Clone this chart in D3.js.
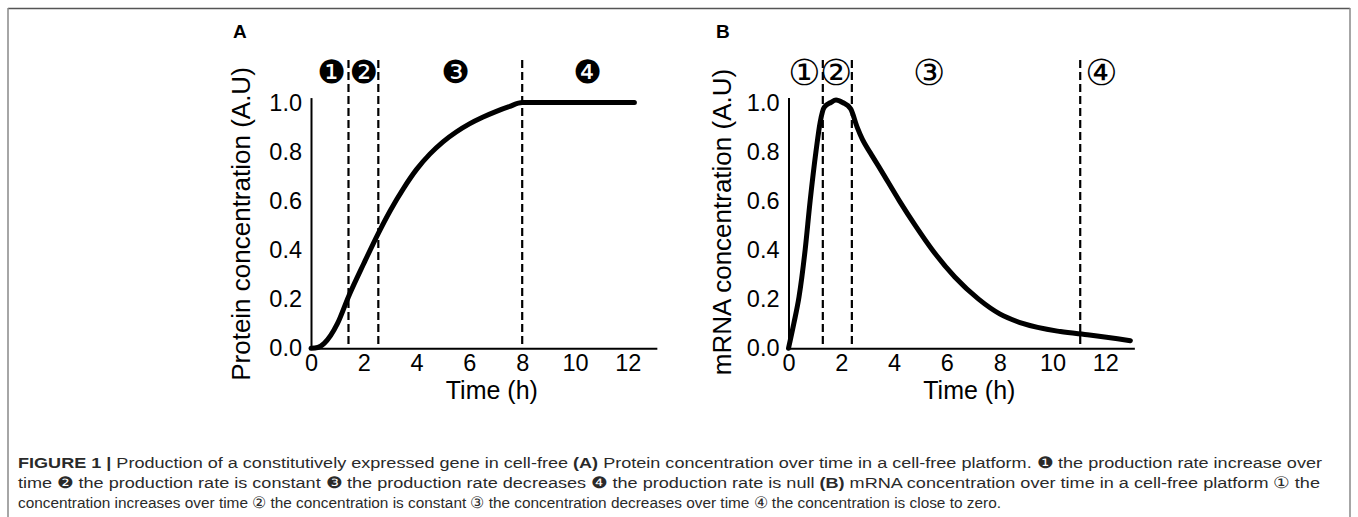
<!DOCTYPE html>
<html><head><meta charset="utf-8">
<script src="https://cdn.jsdelivr.net/npm/d3@7"></script>
<style>
html,body{margin:0;padding:0;background:#fff;}
svg{display:block;}
</style></head>
<body>
<svg id="chart" width="1358" height="517"></svg>
<script>
// ---- data ----
const xTicks = [0, 2, 4, 6, 8, 10, 12];
const yTicks = [0.0, 0.2, 0.4, 0.6, 0.8, 1.0];
const proteinTime = [0, 0.25, 0.5, 1, 1.42, 2, 2.55, 3, 3.5, 4, 4.5, 5, 5.5, 6, 6.5, 7, 7.5, 8, 10, 12.25];
const proteinConc = [0, 0.003, 0.02, 0.1, 0.21, 0.345, 0.468, 0.56, 0.65, 0.728, 0.79, 0.84, 0.88, 0.913, 0.94, 0.963, 0.983, 1.0, 1.0, 1.0];
const mrnaTime = [0, 0.2, 0.4, 0.63, 0.82, 1.04, 1.2, 1.35, 1.6, 1.8, 2.05, 2.35, 2.6, 2.8, 3.1, 3.5, 4.2, 4.8, 5.45, 6.3, 7.2, 8, 8.9, 10.3, 11.4, 12.95];
const mrnaConc = [0, 0.1, 0.21, 0.4, 0.6, 0.8, 0.92, 0.98, 1.0, 1.01, 1.0, 0.975, 0.9, 0.85, 0.795, 0.725, 0.6, 0.5, 0.4, 0.29, 0.2, 0.14, 0.1, 0.068, 0.054, 0.031];
const proteinPhaseLines = [1.42, 2.55, 8.0];
const mrnaPhaseLines = [1.3, 2.4, 11.05];
const proteinPhaseLabels = ["\u2776", "\u2777", "\u2778", "\u2779"];
const proteinPhaseLabelX = [0.78, 2.0, 5.47, 10.47];
const mrnaPhaseLabels = ["\u2460", "\u2461", "\u2462", "\u2463"];
const mrnaPhaseLabelX = [0.6, 1.8, 5.33, 11.85];
const panels = ["A", "B"];
const yLabels = ["Protein concentration (A.U)", "mRNA concentration (A.U)"];
const xLabel = "Time (h)";
const captionLines = [
  [["FIGURE 1 | ", true], ["Production of a constitutively expressed gene in cell-free ", false], ["(A)", true], [" Protein concentration over time in a cell-free platform. \u2776 the production rate increase over", false]],
  [["time \u2777 the production rate is constant \u2778 the production rate decreases \u2779 the production rate is null ", false], ["(B)", true], [" mRNA concentration over time in a cell-free platform \u2460 the", false]],
  [["concentration increases over time \u2461 the concentration is constant \u2462 the concentration decreases over time \u2463 the concentration is close to zero.", false]]
];

const svg = d3.select("#chart");
const FONT = "'Liberation Sans', Arial, Helvetica, sans-serif";

// frame
svg.append("line").attr("x1", 8).attr("x2", 1350).attr("y1", 8.5).attr("y2", 8.5).attr("stroke", "#555").attr("stroke-width", 1.5);
svg.append("line").attr("x1", 8).attr("x2", 8).attr("y1", 8).attr("y2", 517).attr("stroke", "#888").attr("stroke-width", 1.5);
svg.append("line").attr("x1", 1350).attr("x2", 1350).attr("y1", 8).attr("y2", 517).attr("stroke", "#888").attr("stroke-width", 1.5);

const panelCfg = [
  {x0: 311, ylabX: 241, ylabY: 224, letterX: 233, t: proteinTime, v: proteinConc, lines: proteinPhaseLines, labs: proteinPhaseLabels, labX: proteinPhaseLabelX, labSize: 32},
  {x0: 788.5, ylabX: 722, ylabY: 222, letterX: 716, t: mrnaTime, v: mrnaConc, lines: mrnaPhaseLines, labs: mrnaPhaseLabels, labX: mrnaPhaseLabelX, labSize: 36}
];

const y = d3.scaleLinear().domain([0, 1.02]).range([348.3, 97.6]);

panelCfg.forEach((p, i) => {
  const x = d3.scaleLinear().domain([0, 13.1]).range([p.x0, p.x0 + 13.1 * 26.4]);
  const g = svg.append("g");

  // axes
  const xa = g.append("g").attr("transform", `translate(0,${y(0)})`)
    .call(d3.axisBottom(x).tickValues(xTicks).tickSize(0).tickPadding(6.5).tickFormat(d3.format("d")));
  const ya = g.append("g").attr("transform", `translate(${p.x0},0)`)
    .call(d3.axisLeft(y).tickValues(yTicks).tickSize(0).tickPadding(9).tickFormat(d3.format(".1f")));
  [xa, ya].forEach(a => {
    a.select(".domain").attr("stroke", "#000").attr("stroke-width", 2);
    a.selectAll("text").attr("font-family", FONT).attr("font-size", 23.5).attr("fill", "#000");
  });

  // dashed phase lines
  g.selectAll(".ph").data(p.lines).join("line")
    .attr("x1", d => x(d)).attr("x2", d => x(d))
    .attr("y1", 60).attr("y2", y(0))
    .attr("stroke", "#000").attr("stroke-width", 2.2).attr("stroke-dasharray", "8,4");

  // curve
  const pts = p.t.map((t, k) => [t, p.v[k]]);
  g.append("path").datum(pts)
    .attr("d", d3.line().x(d => x(d[0])).y(d => y(d[1])).curve(d3.curveMonotoneX))
    .attr("fill", "none").attr("stroke", "#000").attr("stroke-width", 5).attr("stroke-linecap", "round");

  // phase labels
  g.selectAll(".pl").data(p.labs).join("text")
    .attr("x", (d, k) => x(p.labX[k])).attr("y", 72).attr("dy", "0.35em")
    .attr("text-anchor", "middle").attr("font-family", "'DejaVu Sans', sans-serif")
    .attr("font-size", p.labSize).attr("fill", "#000").text(d => d);

  // axis titles
  g.append("text").attr("x", x(6.85)).attr("y", 399)
    .attr("text-anchor", "middle").attr("font-family", FONT).attr("font-size", 25).text(xLabel);
  g.append("text").attr("transform", `translate(${p.ylabX},${p.ylabY}) rotate(-90)`).attr("dy", "0.35em")
    .attr("text-anchor", "middle").attr("font-family", FONT).attr("font-size", 26).text(yLabels[i]);

  // panel letter
  g.append("text").attr("x", p.letterX).attr("y", 38).attr("font-family", FONT)
    .attr("font-weight", "bold").attr("font-size", 19).text(panels[i]);
});

// caption
const capLens = [1304, 1302, 983];
captionLines.forEach((line, i) => {
  const t = svg.append("text").attr("x", 18).attr("y", 468 + i * 20)
    .attr("font-family", "'Liberation Sans Narrow', 'Liberation Sans', Arial, sans-serif")
    .attr("font-size", 15.5).attr("fill", "#2a2a2a")
    .attr("textLength", capLens[i]).attr("lengthAdjust", "spacingAndGlyphs");
  line.forEach(([s, b]) => t.append("tspan").attr("font-weight", b ? "bold" : "normal").text(s));
});
</script>
</body></html>
